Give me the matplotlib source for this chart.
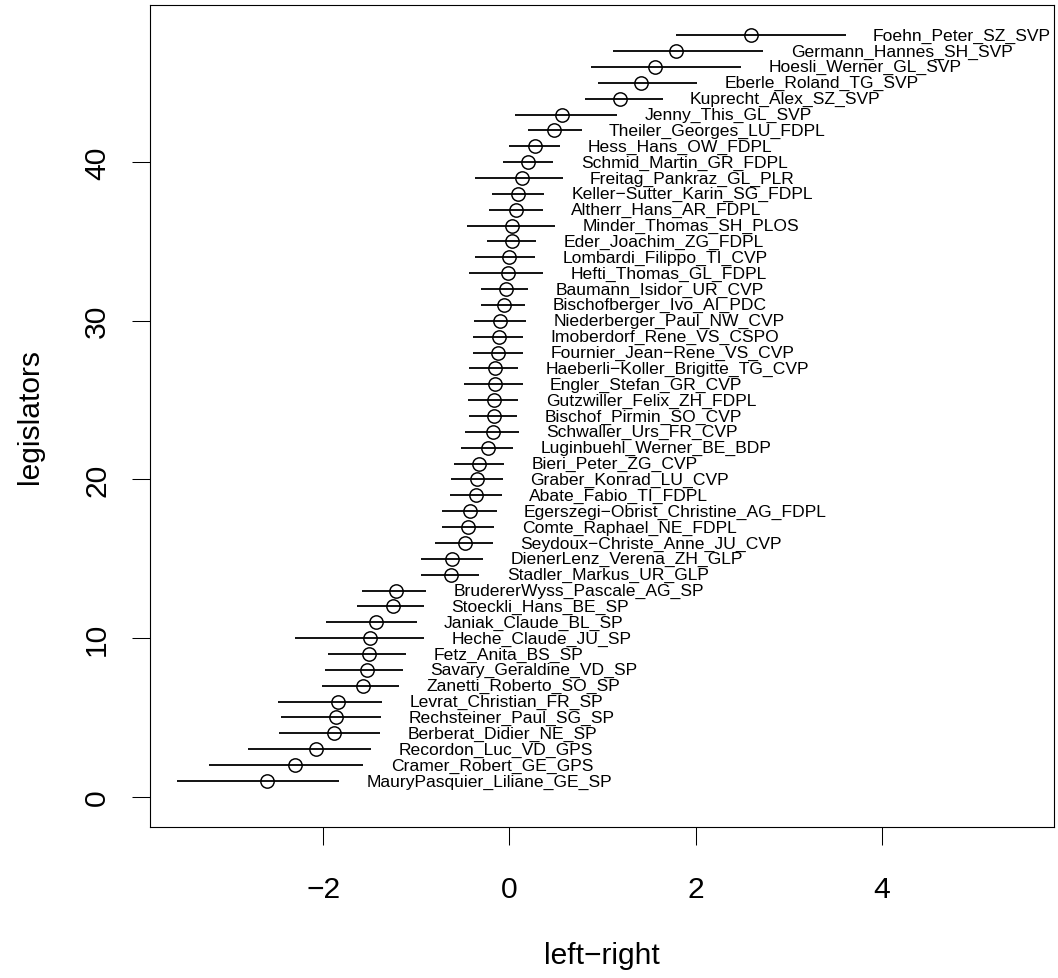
import matplotlib
matplotlib.use("Agg")
import matplotlib.pyplot as plt

# Legislators ordered from left (1) to right (48)
legislators = [
    "MauryPasquier_Liliane_GE_SP", "Cramer_Robert_GE_GPS", "Recordon_Luc_VD_GPS",
    "Berberat_Didier_NE_SP", "Rechsteiner_Paul_SG_SP", "Levrat_Christian_FR_SP",
    "Zanetti_Roberto_SO_SP", "Savary_Geraldine_VD_SP", "Fetz_Anita_BS_SP",
    "Heche_Claude_JU_SP", "Janiak_Claude_BL_SP", "Stoeckli_Hans_BE_SP",
    "BrudererWyss_Pascale_AG_SP", "Stadler_Markus_UR_GLP", "DienerLenz_Verena_ZH_GLP",
    "Seydoux-Christe_Anne_JU_CVP", "Comte_Raphael_NE_FDPL",
    "Egerszegi-Obrist_Christine_AG_FDPL", "Abate_Fabio_TI_FDPL", "Graber_Konrad_LU_CVP",
    "Bieri_Peter_ZG_CVP", "Luginbuehl_Werner_BE_BDP", "Schwaller_Urs_FR_CVP",
    "Bischof_Pirmin_SO_CVP", "Gutzwiller_Felix_ZH_FDPL", "Engler_Stefan_GR_CVP",
    "Haeberli-Koller_Brigitte_TG_CVP", "Fournier_Jean-Rene_VS_CVP",
    "Imoberdorf_Rene_VS_CSPO", "Niederberger_Paul_NW_CVP", "Bischofberger_Ivo_AI_PDC",
    "Baumann_Isidor_UR_CVP", "Hefti_Thomas_GL_FDPL", "Lombardi_Filippo_TI_CVP",
    "Eder_Joachim_ZG_FDPL", "Minder_Thomas_SH_PLOS", "Altherr_Hans_AR_FDPL",
    "Keller-Sutter_Karin_SG_FDPL", "Freitag_Pankraz_GL_PLR", "Schmid_Martin_GR_FDPL",
    "Hess_Hans_OW_FDPL", "Theiler_Georges_LU_FDPL", "Jenny_This_GL_SVP",
    "Kuprecht_Alex_SZ_SVP", "Eberle_Roland_TG_SVP", "Hoesli_Werner_GL_SVP",
    "Germann_Hannes_SH_SVP", "Foehn_Peter_SZ_SVP",
]

# Ideal point estimates with lower / upper interval bounds
ideal = [
    -2.601, -2.301, -2.078, -1.885, -1.864, -1.845, -1.570, -1.527, -1.506, -1.498,
    -1.434, -1.248, -1.223, -0.632, -0.621, -0.478, -0.442, -0.424, -0.360, -0.346,
    -0.324, -0.234, -0.181, -0.166, -0.163, -0.156, -0.156, -0.127, -0.116, -0.102,
    -0.059, -0.041, -0.019, -0.005, 0.023, 0.030, 0.070, 0.095, 0.131, 0.202,
    0.274, 0.481, 0.561, 1.187, 1.412, 1.563, 1.785, 2.590,
]
lower = [
    -3.575, -3.228, -2.812, -2.476, -2.458, -2.483, -2.011, -1.982, -1.953, -2.304,
    -1.971, -1.635, -1.581, -0.954, -0.954, -0.800, -0.729, -0.722, -0.639, -0.628,
    -0.596, -0.521, -0.478, -0.438, -0.449, -0.489, -0.432, -0.395, -0.395, -0.381,
    -0.309, -0.306, -0.435, -0.367, -0.245, -0.453, -0.224, -0.188, -0.367, -0.067,
    -0.002, 0.202, 0.059, 0.814, 0.954, 0.872, 1.115, 1.785,
]
upper = [
    -1.831, -1.570, -1.488, -1.391, -1.380, -1.366, -1.184, -1.147, -1.115, -0.915,
    -0.997, -0.918, -0.900, -0.324, -0.288, -0.181, -0.163, -0.138, -0.084, -0.073,
    -0.056, 0.041, 0.102, 0.077, 0.095, 0.141, 0.095, 0.148, 0.148, 0.177,
    0.166, 0.202, 0.363, 0.274, 0.285, 0.489, 0.363, 0.371, 0.571, 0.470,
    0.542, 0.775, 1.158, 1.645, 2.017, 2.483, 2.726, 3.610,
]

x_ticks = [-2, 0, 2, 4]
y_ticks = [0, 10, 20, 30, 40]

W, H, DPI = 1058, 979, 100
plt.rcParams["font.family"] = ["Liberation Sans", "DejaVu Sans"]

fig = plt.figure(figsize=(W / DPI, H / DPI), dpi=DPI)
L, R, T, B = 150, 1054, 5.7, 828.3
ax = fig.add_axes([L / W, 1 - B / H, (R - L) / W, (B - T) / H])

ranks = list(range(1, len(legislators) + 1))
ax.hlines(ranks, lower, upper, colors="black", linewidth=1.3)
ax.plot(ideal, ranks, linestyle="none", marker="o", markersize=9.6,
        markerfacecolor="none", markeredgecolor="black", markeredgewidth=1.05)

for name, hi, r in zip(legislators, upper, ranks):
    ax.annotate(name.replace("-", "\u2212"), xy=(hi, r), xytext=(19.8, 0),
                textcoords="offset points", ha="left", va="center",
                fontsize=12.6, color="black")

ax.set_xlim(-3.861, 5.849)
ax.set_ylim(-1.92, 49.92)
ax.set_xticks(x_ticks)
ax.set_yticks(y_ticks)
ax.set_xticklabels([f"{t}".replace("-", "\u2212") for t in x_ticks])
ax.set_yticklabels([str(t) for t in y_ticks], rotation=90, va="center")
ax.tick_params(axis="both", direction="out", length=13, width=0.75,
               labelsize=21.6, pad=21)
ax.tick_params(axis="y", pad=15)
for s in ax.spines.values():
    s.set_linewidth(0.8)

fig.text((L + R) / 2 / W, 1 - 956 / H, "left\u2212right", ha="center", va="center",
         fontsize=21.6)
fig.text(30 / W, 1 - ((T + B) / 2) / H, "legislators", ha="center", va="center",
         rotation=90, fontsize=21.6)

fig.savefig("out.png", dpi=DPI, facecolor="white")
